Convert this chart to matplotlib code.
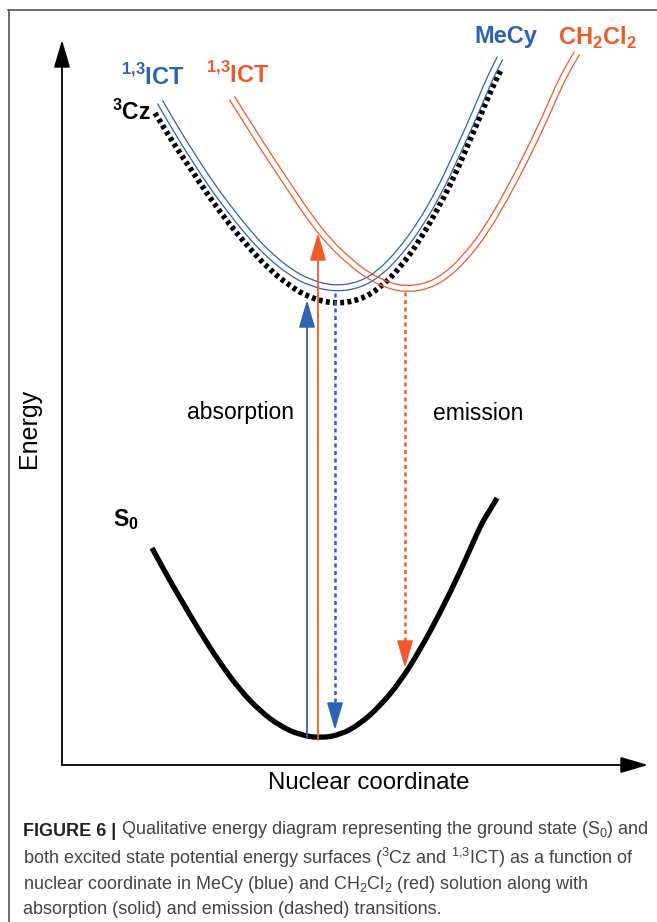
import numpy as np
import matplotlib
matplotlib.use("Agg")
import matplotlib.pyplot as plt
from matplotlib.path import Path
from matplotlib.patches import PathPatch

plt.rcParams['font.family'] = ['Liberation Sans', 'DejaVu Sans']
plt.rcParams['mathtext.fontset'] = 'custom'
plt.rcParams['mathtext.rm'] = 'Liberation Sans'
plt.rcParams['mathtext.bf'] = 'Liberation Sans:bold'

# colours
blue = '#2d63b3'
red = '#ef5a28'

# --- curves (nuclear coordinate, energy) ---
s0_x = [90, 103, 118, 138, 158, 178, 198, 218, 238, 258, 278, 298, 318, 338, 358, 378, 398, 413, 421, 428, 435]
s0_e = [217, 193, 167, 133, 102, 75, 54, 39, 30, 27, 30, 41, 59, 83, 115, 152, 193, 227, 244, 255, 267]

cz_x = [93, 108, 128, 148, 168, 188, 208, 228, 248, 273, 298, 318, 338, 358, 378, 393, 408, 420, 430, 440]
cz_e = [652, 627, 597, 567, 540, 516, 495, 479, 467, 461, 465, 477, 497, 525, 560, 590, 625, 653, 677, 697]

ict_mecy_x = [98, 113, 128, 148, 168, 188, 208, 228, 248, 273, 298, 318, 338, 358, 378, 393, 408, 420, 428, 438]
ict_mecy_e = [663, 637, 613, 582, 555, 530, 509, 493, 482, 476, 480, 492, 513, 540, 575, 607, 640, 668, 687, 707]

ict_dcm_x = [170, 188, 208, 228, 248, 268, 288, 308, 328, 343, 363, 383, 403, 423, 443, 463, 483, 496, 505, 515]
ict_dcm_e = [667, 638, 607, 577, 547, 522, 503, 488, 479, 476, 478, 488, 507, 533, 567, 605, 647, 677, 695, 712]

# transitions: x position, start energy, end energy
abs_mecy = (245, 27, 465)
abs_dcm = (256, 25, 532)
em_mecy = (273, 472, 35)
em_dcm = (343, 473, 97)


def smooth_path(x, e):
    # quadratic curve through the midpoints, using the read points as controls
    p = np.column_stack([x, e]).astype(float)
    verts = [p[0]]
    codes = [Path.MOVETO]
    for i in range(1, len(p) - 1):
        verts += [p[i], (p[i] + p[i + 1]) / 2]
        codes += [Path.CURVE3, Path.CURVE3]
    verts.append(p[-1])
    codes.append(Path.LINETO)
    return Path(verts, codes)


def curve(ax, x, e, **kw):
    ax.add_patch(PathPatch(smooth_path(x, e), fill=False, **kw))


def double_line(ax, x, e, color, gap=3.0, lw=0.9):
    x = np.array(x, float)
    e = np.array(e, float)
    dx = np.gradient(x)
    de = np.gradient(e)
    n = np.hypot(dx, de)
    nx, ne = -de / n, dx / n
    for s in (-gap, gap):
        curve(ax, x + s * nx, e + s * ne, edgecolor=color, lw=lw, capstyle='butt')


head = '-|>,head_length=0.85,head_width=0.25'


def arrow(ax, x, y0, y1, color, dashed=False, lw=1.3):
    if dashed:
        hl = 22 if y1 > y0 else -22
        ax.plot([x, x], [y0, y1 - hl], color=color, lw=1.8, ls=(0, (1.6, 1.4)))
        ax.annotate('', xy=(x, y1), xytext=(x, y1 - hl),
                    arrowprops=dict(arrowstyle=head, color=color, lw=lw,
                                    shrinkA=0, shrinkB=0, mutation_scale=20))
    else:
        ax.annotate('', xy=(x, y1), xytext=(x, y0),
                    arrowprops=dict(arrowstyle=head, color=color, lw=lw,
                                    shrinkA=0, shrinkB=0, mutation_scale=20))


fig = plt.figure(figsize=(6.57, 9.22), dpi=100)

# background axes in pixel units for frame, labels and caption
bg = fig.add_axes([0, 0, 1, 1])
bg.set_xlim(0, 657)
bg.set_ylim(922, 0)
bg.axis('off')
bg.plot([8, 657], [10.5, 10.5], color='#555555', lw=1.2)
bg.plot([8.5, 8.5], [10, 922], color='#555555', lw=1.2)

# diagram axes
ax = fig.add_axes([62 / 657, (922 - 765) / 922, (657 - 62) / 657, (765 - 10) / 922])
ax.set_xlim(0, 595)
ax.set_ylim(0, 755)
ax.axis('off')

# axis arrows
for tip in [(0, 725), (586, 0)]:
    ax.annotate('', xy=tip, xytext=(0, 0), annotation_clip=False,
                arrowprops=dict(arrowstyle=head, color='black',
                                lw=1.3, shrinkA=0, shrinkB=0, mutation_scale=20))

# curves
curve(ax, s0_x, s0_e, edgecolor='black', lw=3.8, capstyle='butt', joinstyle='round')
curve(ax, cz_x, cz_e, edgecolor='black', lw=4.0, linestyle=(0, (0.7, 0.6)), capstyle='butt')
double_line(ax, ict_mecy_x, ict_mecy_e, blue)
double_line(ax, ict_dcm_x, ict_dcm_e, red)

# transitions
arrow(ax, *abs_mecy, blue)
arrow(ax, *abs_dcm, red)
arrow(ax, *em_mecy, blue, dashed=True)
arrow(ax, *em_dcm, red, dashed=True)

# labels inside the diagram
ax.text(178, 352, 'absorption', fontsize=16.5, ha='center', va='center')
ax.text(416, 352, 'emission', fontsize=16.5, ha='center', va='center')
ax.text(64, 245, r'S$_\mathbf{0}$', fontsize=16.5, fontweight='bold', ha='center', va='center')
ax.text(69, 653, r'$^\mathbf{3}$Cz', fontsize=16.5, fontweight='bold', ha='center', va='center')
ax.text(91, 688, r'$^\mathbf{1{,}3}$ICT', fontsize=17, fontweight='bold', color=blue,
        ha='center', va='center')
ax.text(176, 690, r'$^\mathbf{1{,}3}$ICT', fontsize=17, fontweight='bold', color=red,
        ha='center', va='center')
ax.text(444, 729, 'MeCy', fontsize=17, fontweight='bold', color=blue, ha='center', va='center')
ax.text(535, 727, r'CH$_\mathbf{2}$Cl$_\mathbf{2}$', fontsize=17, fontweight='bold', color=red,
        ha='center', va='center')

bg.text(29, 428, 'Energy', fontsize=18, rotation=90, ha='center', va='center')
bg.text(369, 783, 'Nuclear coordinate', fontsize=17.3, ha='center', va='center')

# caption
cap_font = ['Liberation Sans Narrow', 'Liberation Sans', 'DejaVu Sans']
lines = [
    r' Qualitative energy diagram representing the ground state (S$_\mathrm{0}$) and',
    r'both excited state potential energy surfaces ($^\mathrm{3}$Cz and $^\mathrm{1{,}3}$ICT) as a function of',
    r'nuclear coordinate in MeCy (blue) and CH$_\mathrm{2}$Cl$_\mathrm{2}$ (red) solution along with',
    r'absorption (solid) and emission (dashed) transitions.',
]
ys = [829, 855, 881, 907]
t0 = bg.text(23, ys[0], 'FIGURE 6 |', fontsize=13, fontweight='bold', family=cap_font,
             ha='left', va='center_baseline', color='#222222')
bg.annotate(lines[0], xy=(1, 0), xycoords=t0, va='bottom', ha='left', fontsize=13,
            family=cap_font, color='#444444')
for s, y in zip(lines[1:], ys[1:]):
    bg.text(23, y, s, fontsize=13, family=cap_font, ha='left', va='center_baseline', color='#444444')

fig.savefig('out.png', dpi=100)
